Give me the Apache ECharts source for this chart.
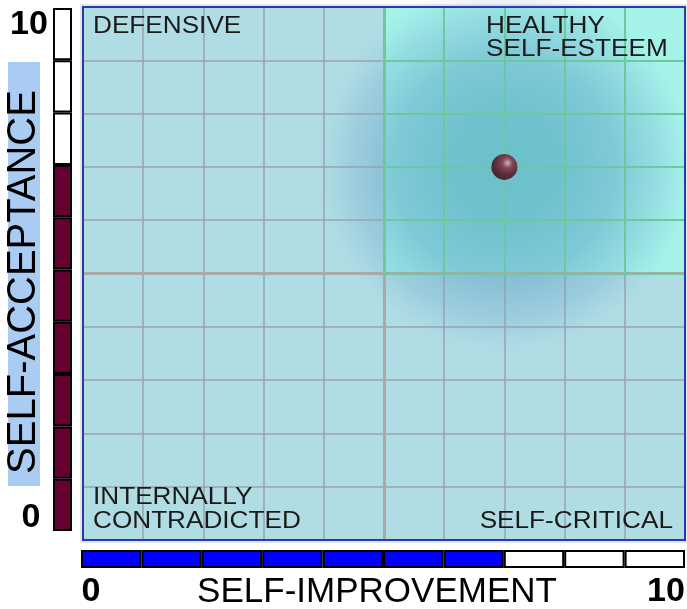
<!DOCTYPE html>
<html>
<head>
<meta charset="utf-8">
<script src="https://cdn.jsdelivr.net/npm/echarts@6/dist/echarts.min.js"></script>
<style>
  html, body { margin: 0; padding: 0; background: #fff; }
  #chart { width: 687px; height: 609px; }
</style>
</head>
<body>
<div id="chart"></div>
<script>
// scores
var selfImprovement = 7;
var selfAcceptance = 7;
var point = [[selfImprovement, selfAcceptance]];

var gridTicks = [0, 1, 2, 3, 4, 5, 6, 7, 8, 9, 10];
var quadrantTicks = [5, 6, 7, 8, 9, 10];
var cellNames = ['1', '2', '3', '4', '5', '6', '7', '8', '9', '10'];
var cellValues = [1, 1, 1, 1, 1, 1, 1, 1, 1, 1];

var axisMin = '0';
var axisMax = '10';
var xTitle = 'SELF-IMPROVEMENT';
var yTitle = 'SELF-ACCEPTANCE';
var labelDefensive = ['DEFENSIVE'];
var labelHealthy = ['HEALTHY', 'SELF-ESTEEM'];
var labelContradicted = ['INTERNALLY', 'CONTRADICTED'];
var labelCritical = ['SELF-CRITICAL'];

var PLOT = { left: 83, top: 7, width: 602, height: 533 };
var FONT = 'Liberation Sans, Arial, sans-serif';

var myChart = echarts.init(document.getElementById('chart'));

var greenLines = [];
quadrantTicks.forEach(function (v) {
  greenLines.push([{ coord: [v, 5] }, { coord: [v, 10] }]);
  greenLines.push([{ coord: [5, v] }, { coord: [10, v] }]);
});

function txt(x, y, text, size, weight, align, sx) {
  return {
    type: 'text',
    x: x,
    y: y,
    z: 20,
    scaleX: sx || 1,
    style: {
      text: text,
      fill: '#000',
      font: (weight || 'normal') + ' ' + size + 'px ' + FONT,
      textAlign: align || 'left',
      textVerticalAlign: 'middle'
    }
  };
}

// quadrant captions are a wide, thin face in the original
function cap(x, y, text, align) {
  var t = txt(x, y, text, 24, 'normal', align, 1.09);
  t.style.fill = '#1a1a1a';
  return t;
}

var myOption = {
  animation: false,
  backgroundColor: '#fff',
  grid: [
    {
      left: PLOT.left, top: PLOT.top, width: PLOT.width, height: PLOT.height,
      show: true, backgroundColor: '#b0dde4', borderWidth: 0
    },
    { left: 53, top: 8, width: 19, height: 523 },
    { left: 81, top: 550, width: 604, height: 18 }
  ],
  xAxis: [
    {
      gridIndex: 0, type: 'value', min: 0, max: 10, interval: 1, z: 3,
      axisLine: { show: false }, axisTick: { show: false }, axisLabel: { show: false },
      splitLine: { show: true, lineStyle: { color: 'rgba(150,160,170,0.7)', width: 2 } }
    },
    {
      gridIndex: 1, type: 'value', min: 0, max: 1, show: false
    },
    {
      gridIndex: 2, type: 'category', data: cellNames, show: false
    }
  ],
  yAxis: [
    {
      gridIndex: 0, type: 'value', min: 0, max: 10, interval: 1, z: 3,
      axisLine: { show: false }, axisTick: { show: false }, axisLabel: { show: false },
      splitLine: { show: true, lineStyle: { color: 'rgba(150,160,170,0.7)', width: 2 } }
    },
    {
      gridIndex: 1, type: 'category', data: cellNames, show: false
    },
    {
      gridIndex: 2, type: 'value', min: 0, max: 1, show: false
    }
  ],
  series: [
    {
      // upper right quadrant
      name: 'quadrant',
      type: 'line',
      xAxisIndex: 0, yAxisIndex: 0,
      data: [],
      z: 1,
      markArea: {
        silent: true,
        itemStyle: { color: '#a4f2e8' },
        data: [[{ coord: [5, 5] }, { coord: [10, 10] }]]
      }
    },
    {
      name: 'halo',
      type: 'scatter',
      xAxisIndex: 0, yAxisIndex: 0,
      data: point,
      symbolSize: 370,
      silent: true,
      z: 2,
      itemStyle: {
        color: {
          type: 'radial', x: 0.5, y: 0.5, r: 0.5,
          colorStops: [
            { offset: 0, color: 'rgba(80,170,190,0.85)' },
            { offset: 0.3, color: 'rgba(80,165,190,0.78)' },
            { offset: 0.6, color: 'rgba(85,155,195,0.58)' },
            { offset: 0.82, color: 'rgba(100,160,205,0.32)' },
            { offset: 1, color: 'rgba(120,175,215,0)' }
          ]
        }
      }
    },
    {
      name: 'dividers',
      type: 'line',
      xAxisIndex: 0, yAxisIndex: 0,
      data: [],
      z: 4,
      markLine: {
        silent: true,
        symbol: 'none',
        label: { show: false },
        lineStyle: { color: '#a9a9a9', width: 3, type: 'solid' },
        data: [
          [{ coord: [5, 0] }, { coord: [5, 10] }],
          [{ coord: [0, 5] }, { coord: [10, 5] }]
        ]
      }
    },
    {
      name: 'quadrantGrid',
      type: 'line',
      xAxisIndex: 0, yAxisIndex: 0,
      data: [],
      z: 5,
      markLine: {
        silent: true,
        symbol: 'none',
        label: { show: false },
        lineStyle: { color: '#6cc99c', width: 2, type: 'solid' },
        data: greenLines
      }
    },
    {
      name: 'score',
      type: 'scatter',
      xAxisIndex: 0, yAxisIndex: 0,
      data: point,
      symbolSize: 26,
      z: 6,
      itemStyle: {
        color: {
          type: 'radial', x: 0.62, y: 0.35, r: 0.65,
          colorStops: [
            { offset: 0, color: '#e6b0b8' },
            { offset: 0.3, color: '#8c2a3c' },
            { offset: 0.7, color: '#55081c' },
            { offset: 1, color: '#3a0010' }
          ]
        }
      }
    },
    {
      name: 'acceptanceBar',
      type: 'bar',
      xAxisIndex: 1, yAxisIndex: 1,
      data: cellValues,
      barWidth: '100%',
      itemStyle: {
        borderColor: '#000',
        borderWidth: 2,
        color: function (p) { return p.dataIndex < selfAcceptance ? '#660033' : '#ffffff'; }
      }
    },
    {
      name: 'improvementBar',
      type: 'bar',
      xAxisIndex: 2, yAxisIndex: 2,
      data: cellValues,
      barWidth: '100%',
      itemStyle: {
        borderColor: '#000',
        borderWidth: 2,
        color: function (p) { return p.dataIndex < selfImprovement ? '#0000ff' : '#ffffff'; }
      }
    }
  ],
  graphic: [
    {
      type: 'rect', z: 15, silent: true,
      shape: { x: PLOT.left, y: PLOT.top, width: PLOT.width, height: PLOT.height },
      style: { fill: 'none', stroke: '#2a3aa8', lineWidth: 2 }
    },
    {
      type: 'rect', z: 15, silent: true,
      shape: { x: PLOT.left - 2, y: PLOT.top - 2, width: PLOT.width + 4, height: PLOT.height + 4 },
      style: { fill: 'none', stroke: '#c8ccd4', lineWidth: 1 }
    },
    // y title on light blue strip
    {
      type: 'rect', z: 10, silent: true,
      shape: { x: 8, y: 62, width: 32, height: 424 },
      style: { fill: '#aaccf2' }
    },
    {
      type: 'text', z: 20, x: 24, y: 282, rotation: Math.PI / 2,
      style: {
        text: yTitle, fill: '#000', font: 'normal 40px ' + FONT,
        textAlign: 'center', textVerticalAlign: 'middle'
      }
    },
    txt(29, 25, axisMax, 34, 'bold', 'center'),
    txt(31, 518, axisMin, 34, 'bold', 'center'),
    txt(91, 592, axisMin, 34, 'bold', 'center'),
    txt(666, 592, axisMax, 34, 'bold', 'center'),
    txt(377, 592, xTitle, 35, 'normal', 'center'),
    cap(93, 26, labelDefensive[0]),
    cap(486, 26, labelHealthy[0]),
    cap(486, 49, labelHealthy[1]),
    cap(93, 497, labelContradicted[0]),
    cap(93, 521, labelContradicted[1]),
    cap(673, 521, labelCritical[0], 'right')
  ]
};

myChart.setOption(myOption);
</script>
</body>
</html>
